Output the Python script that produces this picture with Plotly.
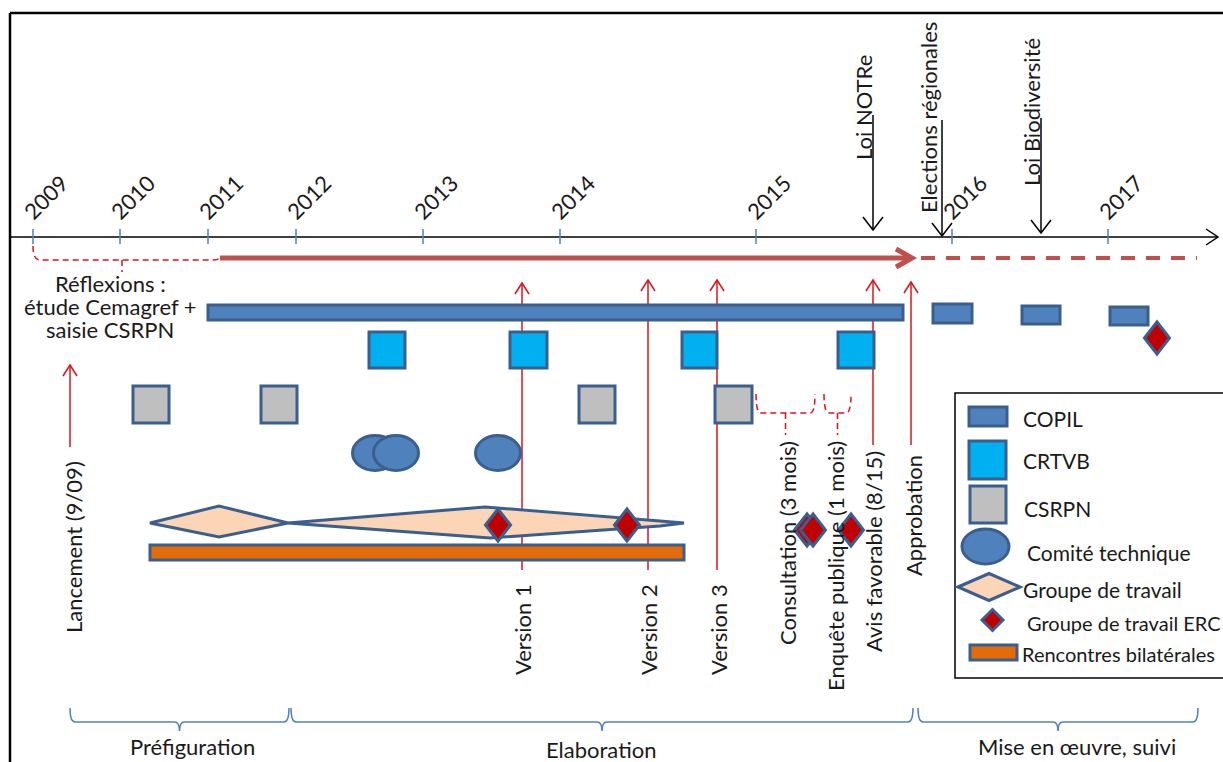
import plotly.graph_objects as go

W, H = 1223, 762
FONT = "Lato"
INK = "#1a1a1a"
BLUE_EDGE = "#3A5F8E"
RED = "#D9141B"
RED_TL = "#C0504D"

# ---------------- data (positions along the drawn time axis) ----------------
year_labels = ["2009", "2010", "2011", "2012", "2013", "2014", "2015", "2016", "2017"]
year_pos = [33, 120, 208, 296, 423, 560, 756, 952, 1108]

copil_start = [208, 933, 1022, 1110]
copil_end = [903, 972, 1060, 1148]

crtvb_start = [369, 510, 682, 838]
crtvb_end = [405, 547, 717, 874]

csrpn_start = [133, 261, 579, 715]
csrpn_end = [169, 297, 615, 752]

comite_center = [375, 396, 498]

gt_start = [150, 288]
gt_peak = [219, 485]
gt_end = [288, 684]

erc_center = [498, 627, 807, 813, 851, 1157]
erc_row = [525, 525, 530, 530, 530, 338]

rencontres_start = [150]
rencontres_end = [684]

milestone_labels = ["Lancement (9/09)", "Version 1", "Version 2", "Version 3",
                    "Avis favorable (8/15)", "Approbation"]
milestone_pos = [70, 522, 648, 717, 873, 911]

context_labels = ["Loi NOTRe", "Elections régionales", "Loi Biodiversité"]
context_pos = [873, 942, 1041]

period_labels = ["Consultation (3 mois)", "Enquête publique (1 mois)"]
period_start = [756, 824]
period_end = [815, 851]

phase_labels = ["Préfiguration", "Elaboration", "Mise en œuvre, suivi"]
phase_start = [70, 291, 918]
phase_end = [289, 913, 1198]

reflexion_lines = ["Réflexions :", "étude Cemagref +", "saisie CSRPN"]

legend_labels = ["COPIL", "CRTVB", "CSRPN", "Comité technique", "Groupe de travail",
                 "Groupe de travail ERC", "Rencontres bilatérales"]

# ---------------- figure ----------------
fig = go.Figure()
fig.add_trace(go.Scatter(x=[0, W], y=[0, H], mode="markers",
                         marker=dict(opacity=0), hoverinfo="skip", showlegend=False))

shapes = []
ann = []


def line(x0, y0, x1, y1, color, width, dash=None):
    d = dict(type="line", x0=x0, y0=y0, x1=x1, y1=y1, xref="x", yref="y",
             line=dict(color=color, width=width))
    if dash:
        d["line"]["dash"] = dash
    shapes.append(d)


def path(p, color, width, fill=None, dash=None):
    d = dict(type="path", path=p, xref="x", yref="y",
             line=dict(color=color, width=width))
    if fill:
        d["fillcolor"] = fill
    if dash:
        d["line"]["dash"] = dash
    shapes.append(d)


def rect(x0, y0, x1, y1, fill, edge=BLUE_EDGE, width=3):
    shapes.append(dict(type="rect", x0=x0, y0=y0, x1=x1, y1=y1, xref="x", yref="y",
                       fillcolor=fill, line=dict(color=edge, width=width)))


def ellipse(cx, cy, rx, ry, fill):
    shapes.append(dict(type="circle", x0=cx - rx, y0=cy - ry, x1=cx + rx, y1=cy + ry,
                       xref="x", yref="y", fillcolor=fill,
                       line=dict(color=BLUE_EDGE, width=3)))


def diamond(cx, cy, hw, hh, fill, width=3):
    path(f"M {cx-hw},{cy} L {cx},{cy-hh} L {cx+hw},{cy} L {cx},{cy+hh} Z",
         BLUE_EDGE, width, fill)


def text(x, y, s, size, angle=0, xanchor="center", color=INK):
    ann.append(dict(x=x, y=y, xref="x", yref="y", text=s, showarrow=False,
                    textangle=angle, xanchor=xanchor, yanchor="middle",
                    font=dict(family=FONT, size=size, color=color)))


def up_arrow(x, ytop, ybot, color, width=1.5, hw=7, hh=11):
    line(x, ybot, x, ytop, color, width)
    path(f"M {x-hw},{ytop+hh} L {x},{ytop} L {x+hw},{ytop+hh}", color, width)


def down_arrow(x, ytop, ybot, color, width=1.5, hw=10, hh=12):
    line(x, ytop, x, ybot, color, width)
    path(f"M {x-hw},{ybot-hh} L {x},{ybot} L {x+hw},{ybot-hh}", color, width)


# frame
line(10, 13, 10, H, "#000000", 2.5)
line(10, 13, W, 13, "#000000", 2.5)

# red milestone arrows (drawn first, below the meeting marks)
milestone_bottom = [447, 570, 570, 570, 445, 445]
milestone_top = [365, 283, 280, 280, 280, 282]
for x, yt, yb in zip(milestone_pos, milestone_top, milestone_bottom):
    up_arrow(x, yt, yb, RED)

# time axis
line(10, 237, 1218, 237, "#000000", 1.5)
path("M 1206,229 L 1218,237 L 1206,245", "#000000", 1.5)
for x in year_pos:
    line(x, 229, x, 244, "#4F81BD", 1.5)

# context events (black arrows)
context_top = [115, 120, 118]
context_tip = [230, 236, 233]
for x, yt, yb in zip(context_pos, context_top, context_tip):
    down_arrow(x, yt, yb, "#000000", 1.5, 10, 13)

# main progress arrow
line(220, 258, 910, 258, RED_TL, 5)
path("M 896,249 L 912,258 L 896,267", RED_TL, 5)
line(921, 258, 1197, 258, RED_TL, 4, dash="14px,11px")

# Réflexions bracket
path("M 33,246 Q 33,260 40,260 L 214,260 Q 220,260 220,255", RED, 1.5, dash="6px,4px")
line(122, 260, 122, 272, RED, 1.5, dash="6px,4px")

# consultation / enquête brackets
for x0, x1 in zip(period_start, period_end):
    xc = (x0 + x1) / 2
    path(f"M {x0},394 Q {x0},413 {x0+5},413 L {x1-5},413 Q {x1},413 {x1},394",
         RED, 1.5, dash="6px,4px")
    line(xc, 413, xc, 435, RED, 1.5, dash="6px,4px")

# COPIL
copil_top = [305, 304, 306, 307]
copil_bot = [320, 323, 324, 325]
for x0, x1, y0, y1 in zip(copil_start, copil_end, copil_top, copil_bot):
    rect(x0, y0, x1, y1, "#4F81BD")

# CRTVB
for x0, x1 in zip(crtvb_start, crtvb_end):
    rect(x0, 332, x1, 368, "#00B0F0")

# CSRPN
for x0, x1 in zip(csrpn_start, csrpn_end):
    rect(x0, 386, x1, 423, "#BFBFBF")

# Comité technique
for cx in comite_center:
    ellipse(cx, 453, 22.5, 17.5, "#4F81BD")

# Groupe de travail
path(f"M {gt_start[0]},523 L {gt_peak[0]},506 L {gt_end[0]},523 L {gt_peak[0]},537 Z",
     BLUE_EDGE, 3, "#FBD5B5")
path(f"M {gt_start[1]},523 L {gt_peak[1]},507 L 660,521 L {gt_end[1]},523 "
     f"L 660,526 L {gt_peak[1]+5},538 Z", BLUE_EDGE, 3, "#FBD5B5")

# Rencontres bilatérales
for x0, x1 in zip(rencontres_start, rencontres_end):
    rect(x0, 545, x1, 560, "#E36C09")

# Groupe de travail ERC
for cx, cy in zip(erc_center, erc_row):
    diamond(cx, cy, 12.5, 16, "#C00000")

# legend box
shapes.append(dict(type="rect", x0=955, y0=393, x1=1226, y1=678, xref="x", yref="y",
                   fillcolor="white", line=dict(color="#000000", width=1.5)))
rect(969, 407, 1007, 426, "#4F81BD")
rect(969, 441, 1006, 479, "#00B0F0")
rect(970, 486, 1006, 523, "#BFBFBF")
ellipse(985.5, 546.5, 23.5, 17.5, "#4F81BD")
diamond(989, 587, 31, 13.5, "#FBD5B5")
diamond(992.5, 620, 10.5, 10.5, "#C00000")
rect(970, 645, 1017, 660, "#E36C09")
legend_x = [1021, 1021, 1022, 1025, 1021, 1025, 1020]
legend_y = [418, 460, 508, 552, 589, 623, 654]
legend_size = [21, 21, 21, 21, 21, 20, 20]
for s, lx, ly, fs in zip(legend_labels, legend_x, legend_y, legend_size):
    text(lx, ly, s, fs, xanchor="left")

# phase braces at the bottom
for x0, x1 in zip(phase_start, phase_end):
    xc = (x0 + x1) / 2
    path(f"M {x0},708 Q {x0},722 {x0+5},722 L {xc-5},722 Q {xc},722 {xc},731 "
         f"Q {xc},722 {xc+5},722 L {x1-5},722 Q {x1},722 {x1},708",
         "#4F81BD", 1.5)
phase_text_x = [192, 601, 1077]
phase_text_y = [746, 749, 746]
for s, tx, ty in zip(phase_labels, phase_text_x, phase_text_y):
    text(tx, ty, s, 22)

# year labels
for s, x in zip(year_labels, year_pos):
    text(x + 12, 197, s, 22, angle=-45)

# rotated milestone labels
milestone_text_x = [73, 522, 648, 718, 873, 913]
milestone_text_y = [547, 630, 630, 630, 552, 516]
for s, tx, ty in zip(milestone_labels, milestone_text_x, milestone_text_y):
    text(tx, ty, s, 22, angle=-90)

period_text_x = [787, 835]
period_text_y = [543, 566]
for s, tx, ty in zip(period_labels, period_text_x, period_text_y):
    text(tx, ty, s, 22, angle=-90)

context_text_x = [863, 928, 1031]
context_text_y = [108, 118, 112]
for s, tx, ty in zip(context_labels, context_text_x, context_text_y):
    text(tx, ty, s, 22, angle=-90)

# Réflexions text
for s, ty in zip(reflexion_lines, [283, 306, 329]):
    text(110, ty, s, 22)

fig.update_layout(
    width=W, height=H,
    margin=dict(l=0, r=0, t=0, b=0),
    paper_bgcolor="white", plot_bgcolor="white",
    xaxis=dict(range=[0, W], visible=False, fixedrange=True),
    yaxis=dict(range=[H, 0], visible=False, fixedrange=True),
    shapes=shapes, annotations=ann, showlegend=False,
)
fig.write_html("out.html", config={"displayModeBar": False},
               post_script="document.body.style.margin='0';document.body.style.overflow='hidden';")
